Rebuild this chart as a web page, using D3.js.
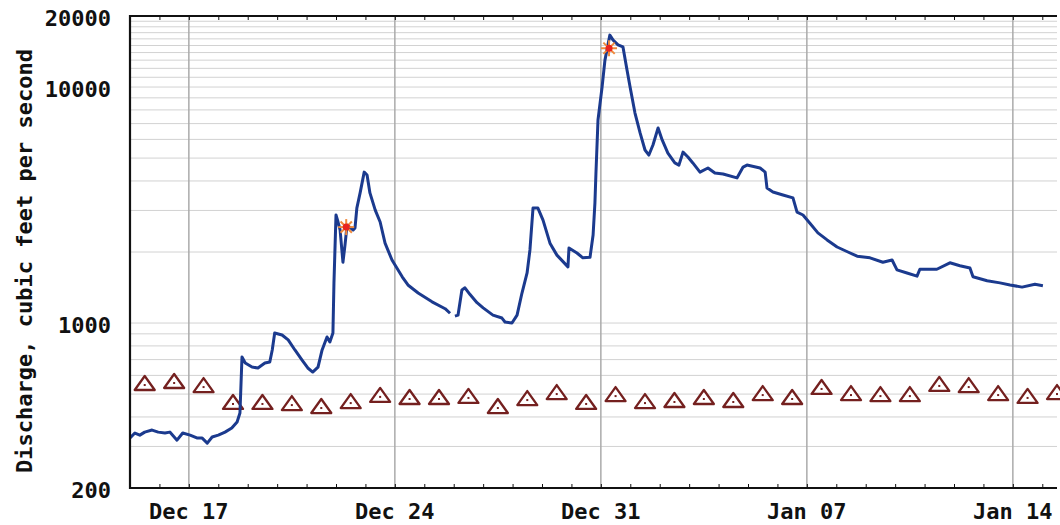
<!DOCTYPE html>
<html>
<head>
<meta charset="utf-8">
<title>Discharge, cubic feet per second</title>
<script src="https://d3js.org/d3.v7.min.js"></script>
<style>
body { margin: 0; background: #fff; }
text { font-family: "DejaVu Sans Mono", monospace; font-weight: bold; font-size: 22px; fill: #111; }
.grid line { stroke: #d2d2d2; stroke-width: 1; }
.wgrid line { stroke: #ababab; stroke-width: 1.5; }
.frame { stroke: #111; stroke-width: 2.2; fill: none; }
.flow { fill: none; stroke: #1b3a8e; stroke-width: 3; stroke-linejoin: round; }
.median path { fill: #fff; stroke: #74201f; stroke-width: 2.3; stroke-linejoin: round; }
.median rect { fill: #74201f; }
.tick line { stroke: #111; }
</style>
</head>
<body>
<svg id="chart" width="1060" height="525"></svg>
<script>
// instantaneous discharge, ft3/s (null = gap in record)
var times = [
  "2014-12-15 00:00","2014-12-15 04:00","2014-12-15 08:00","2014-12-15 12:00","2014-12-15 18:00","2014-12-15 23:00",
  "2014-12-16 04:30","2014-12-16 08:30","2014-12-16 14:20","2014-12-16 19:00",
  "2014-12-17 01:00","2014-12-17 06:30","2014-12-17 10:40","2014-12-17 15:00","2014-12-17 19:00",
  "2014-12-18 00:00","2014-12-18 05:30","2014-12-18 11:00","2014-12-18 15:20","2014-12-18 17:40","2014-12-18 19:20","2014-12-18 22:00",
  "2014-12-19 03:30","2014-12-19 08:20","2014-12-19 14:00","2014-12-19 18:00","2014-12-19 20:00","2014-12-19 22:00",
  "2014-12-20 04:00","2014-12-20 09:00","2014-12-20 14:30","2014-12-20 20:20",
  "2014-12-21 01:00","2014-12-21 05:00","2014-12-21 09:20","2014-12-21 12:40","2014-12-21 16:40","2014-12-21 19:00","2014-12-21 21:30","2014-12-21 22:20",
  "2014-12-22 00:00","2014-12-22 01:40","2014-12-22 03:20","2014-12-22 05:40","2014-12-22 07:20","2014-12-22 09:00","2014-12-22 14:00","2014-12-22 15:30","2014-12-22 17:00","2014-12-22 19:40","2014-12-22 23:00",
  "2014-12-23 01:20","2014-12-23 03:40","2014-12-23 08:00","2014-12-23 12:00","2014-12-23 16:00","2014-12-23 21:40",
  "2014-12-24 06:00","2014-12-24 10:40","2014-12-24 19:00",
  "2014-12-25 06:20","2014-12-25 17:00","2014-12-25 21:00","2014-12-25 23:00",
  "2014-12-26 01:00","2014-12-26 03:30","2014-12-26 06:40","2014-12-26 09:10","2014-12-26 13:20","2014-12-26 19:00",
  "2014-12-27 00:00","2014-12-27 08:00","2014-12-27 15:20","2014-12-27 17:50","2014-12-27 23:30",
  "2014-12-28 03:40","2014-12-28 07:40","2014-12-28 11:50","2014-12-28 14:10","2014-12-28 16:40","2014-12-28 20:40",
  "2014-12-29 00:50","2014-12-29 06:30","2014-12-29 12:10","2014-12-29 21:10","2014-12-29 22:00",
  "2014-12-30 04:30","2014-12-30 09:20","2014-12-30 15:10","2014-12-30 17:40","2014-12-30 19:10","2014-12-30 20:00","2014-12-30 21:40",
  "2014-12-31 01:00","2014-12-31 03:20","2014-12-31 07:20","2014-12-31 10:00","2014-12-31 14:00","2014-12-31 18:00","2014-12-31 21:20","2014-12-31 23:50",
  "2015-01-01 03:50","2015-01-01 08:00","2015-01-01 12:00","2015-01-01 15:10","2015-01-01 18:30","2015-01-01 22:40",
  "2015-01-02 02:00","2015-01-02 06:40","2015-01-02 12:20","2015-01-02 15:40","2015-01-02 19:00","2015-01-02 23:00",
  "2015-01-03 03:00","2015-01-03 08:50","2015-01-03 15:20","2015-01-03 21:00",
  "2015-01-04 03:40","2015-01-04 15:00","2015-01-04 20:00","2015-01-04 23:10",
  "2015-01-05 09:50","2015-01-05 14:00","2015-01-05 15:30","2015-01-05 20:20",
  "2015-01-06 04:30","2015-01-06 12:40","2015-01-06 16:00","2015-01-06 20:50",
  "2015-01-07 02:30","2015-01-07 09:00","2015-01-07 16:30",
  "2015-01-08 00:40","2015-01-08 09:30","2015-01-08 17:00",
  "2015-01-09 03:30","2015-01-09 14:00","2015-01-09 21:30",
  "2015-01-10 01:30","2015-01-10 09:40","2015-01-10 17:50","2015-01-10 20:10",
  "2015-01-11 10:00","2015-01-11 20:40",
  "2015-01-12 04:50","2015-01-12 13:00","2015-01-12 15:30",
  "2015-01-13 03:00","2015-01-13 13:30","2015-01-13 21:40",
  "2015-01-14 07:30","2015-01-14 18:00","2015-01-15 00:30"
];
var flow = [
  326, 342, 335, 345, 352, 345,
  342, 345, 319, 342,
  335, 326, 326, 310, 329,
  335, 345, 359, 381, 416, 718, 677,
  651, 645, 677, 684, 769, 907,
  890, 848, 769, 697,
  645, 620, 651, 769, 873, 831, 907, 1480,
  2870, 2680, 2480, 1810, 2140, 2600, 2480, 2530, 3070, 3560, 4360,
  4240, 3560, 3010, 2680, 2180, 1850,
  1570, 1450, 1340,
  1230, 1150, 1100, null,
  1070, 1080, 1380, 1410, 1320, 1220,
  1160, 1080, 1050, 1010, 1000,
  1080, 1340, 1630, 2040, 3070, 3070,
  2730, 2180, 1940, 1730, 2080,
  1980, 1890, 1900, 2360, 3230, 4320, 7250,
  10000, 13000, 16600, 15800, 15100, 14800, 11800, 10000,
  7760, 6390, 5410, 5150, 5680, 6710,
  5970, 5250, 4770, 4670, 5300, 5050,
  4770, 4360, 4540, 4320,
  4280, 4120, 4580, 4670,
  4540, 4360, 3730, 3590,
  3490, 3390, 2950, 2870,
  2650, 2410, 2250,
  2100, 2000, 1920,
  1890, 1810, 1850,
  1680, 1630, 1580, 1690,
  1690, 1800,
  1750, 1710, 1570,
  1510, 1480, 1450,
  1420, 1460, 1440
];

// daily median discharge (triangles), plotted at noon
var medianDays = [
  "2014-12-15","2014-12-16","2014-12-17","2014-12-18","2014-12-19","2014-12-20","2014-12-21","2014-12-22",
  "2014-12-23","2014-12-24","2014-12-25","2014-12-26","2014-12-27","2014-12-28","2014-12-29","2014-12-30",
  "2014-12-31","2015-01-01","2015-01-02","2015-01-03","2015-01-04","2015-01-05","2015-01-06","2015-01-07",
  "2015-01-08","2015-01-09","2015-01-10","2015-01-11","2015-01-12","2015-01-13","2015-01-14","2015-01-15"
];
var medianFlow = [
  557, 568, 546, 463, 463, 458, 445, 467,
  496, 486, 486, 491, 445, 481, 510, 463,
  500, 467, 472, 486, 472, 505, 486, 536,
  505, 500, 500, 552, 546, 505, 491, 510
];

// peak flow markers
var peakTimes = ["2014-12-22 08:20", "2014-12-31 06:40"];
var peakFlow = [2550, 14600];

var yLabels = [200, 1000, 10000, 20000];
var xLabelDays = ["2014-12-17", "2014-12-24", "2014-12-31", "2015-01-07", "2015-01-14"];

var parseTime = d3.timeParse("%Y-%m-%d %H:%M");
var parseDay = d3.timeParse("%Y-%m-%d");

var svg = d3.select("#chart");
var pLeft = 130, pRight = 1057, pTop = 16, pBottom = 488;

var x = d3.scaleTime()
    .domain([parseTime("2014-12-15 00:00"), parseTime("2015-01-15 12:00")])
    .range([pLeft, pRight]);
var y = d3.scaleLog()
    .domain([200, 20000])
    .range([pBottom, pTop]);

// horizontal grid: every 100 up to 1000, every 1000 above
var gridVals = d3.range(300, 1000, 100).concat(d3.range(1000, 10000, 1000), d3.range(10000, 20000, 1000));
svg.append("g").attr("class", "grid")
  .selectAll("line").data(gridVals).enter().append("line")
    .attr("x1", pLeft).attr("x2", pRight)
    .attr("y1", function(d) { return y(d); })
    .attr("y2", function(d) { return y(d); });

// weekly vertical grid
var weekDays = xLabelDays.map(parseDay);
svg.append("g").attr("class", "wgrid")
  .selectAll("line").data(weekDays).enter().append("line")
    .attr("x1", function(d) { return x(d); })
    .attr("x2", function(d) { return x(d); })
    .attr("y1", pTop).attr("y2", pBottom);

// daily ticks, top and bottom
var days = d3.timeDay.range(x.domain()[0], x.domain()[1]).slice(1);
svg.append("g")
    .attr("transform", "translate(0," + pBottom + ")")
    .call(d3.axisTop(x).tickValues(days).tickSize(4).tickFormat(""))
    .call(function(g) { g.select(".domain").remove(); });
svg.append("g")
    .attr("transform", "translate(0," + pTop + ")")
    .call(d3.axisBottom(x).tickValues(days).tickSize(4).tickFormat(""))
    .call(function(g) { g.select(".domain").remove(); });

// median triangles
var med = svg.append("g").attr("class", "median")
  .selectAll("g").data(medianDays).enter().append("g")
    .attr("transform", function(d, i) {
      return "translate(" + x(d3.timeHour.offset(parseDay(d), 12)) + "," + y(medianFlow[i]) + ")";
    });
med.append("path").attr("d", "M0,-7L10,7L-10,7Z");
med.append("rect").attr("x", -1).attr("y", 1).attr("width", 2).attr("height", 2);

// discharge line
var line = d3.line()
    .defined(function(d) { return d[1] != null; })
    .x(function(d) { return x(d[0]); })
    .y(function(d) { return y(d[1]); });
svg.append("path")
    .datum(times.map(function(t, i) { return [parseTime(t), flow[i]]; }))
    .attr("class", "flow")
    .attr("d", line);

// peak stars
var star = svg.append("g").selectAll("g").data(peakTimes).enter().append("g")
    .attr("transform", function(d, i) { return "translate(" + x(parseTime(d)) + "," + y(peakFlow[i]) + ")"; });
[0, 45, 90, 135].forEach(function(a) {
  star.append("line")
    .attr("x1", -8).attr("x2", 8).attr("y1", 0).attr("y2", 0)
    .attr("transform", "rotate(" + a + ")")
    .attr("stroke", "#f08a3c").attr("stroke-width", 2);
});
star.append("circle").attr("r", 3.5).attr("fill", "#e8231e");

// frame
svg.append("path").attr("class", "frame")
    .attr("d", "M" + pRight + "," + pTop + "H" + pLeft + "V" + pBottom + "H" + pRight);

// y labels
svg.append("g").selectAll("text").data(yLabels).enter().append("text")
    .attr("x", 111)
    .attr("y", function(d) { return y(d) + 10; })
    .attr("text-anchor", "end")
    .text(function(d) { return d; });

// x labels
var fmt = d3.timeFormat("%b %d");
svg.append("g").selectAll("text").data(weekDays).enter().append("text")
    .attr("x", function(d) { return x(d); })
    .attr("y", 519)
    .attr("text-anchor", "middle")
    .text(function(d) { return fmt(d); });

// y title
svg.append("text")
    .attr("transform", "translate(32,261) rotate(-90)")
    .attr("text-anchor", "middle")
    .text("Discharge, cubic feet per second");
</script>
</body>
</html>
